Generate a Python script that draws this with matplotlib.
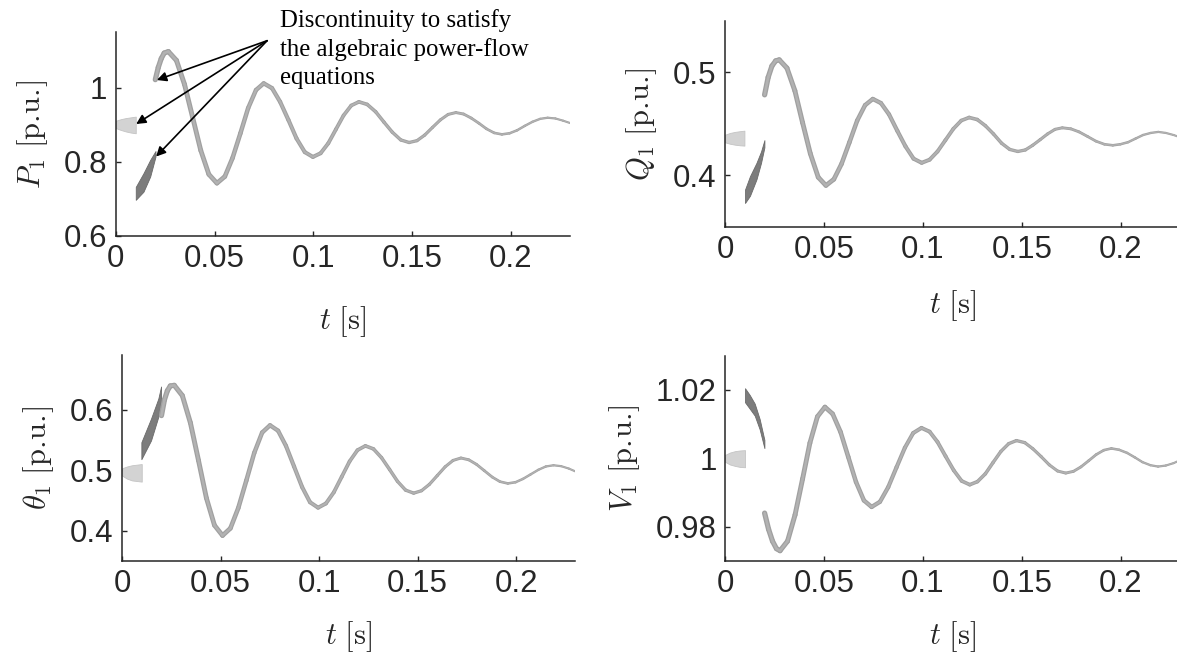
import numpy as np
import matplotlib
matplotlib.use("Agg")
import matplotlib.pyplot as plt
from matplotlib.collections import LineCollection

plt.rcParams['mathtext.fontset'] = 'cm'
plt.rcParams['font.family'] = ['Liberation Sans', 'DejaVu Sans']

# ---------------- data ----------------
# P1 [p.u.]
p_pre_t = [0.0, 0.0025, 0.005, 0.0075, 0.0101]
p_pre_hi = [0.911, 0.915, 0.918, 0.920, 0.922]
p_pre_lo = [0.891, 0.886, 0.882, 0.879, 0.877]
p_flt_t = [0.0101, 0.0140, 0.0174, 0.0201]
p_flt_hi = [0.732, 0.769, 0.805, 0.829]
p_flt_lo = [0.697, 0.719, 0.760, 0.814]
p_t = [0.0200, 0.0215, 0.0230, 0.0245, 0.0266, 0.0307, 0.0348, 0.0389, 0.0430, 0.0471,
       0.0512, 0.0552, 0.0591, 0.0631, 0.0670, 0.0710, 0.0749, 0.0791, 0.0832, 0.0874,
       0.0915, 0.0957, 0.0998, 0.1037, 0.1076, 0.1115, 0.1153, 0.1192, 0.1231, 0.1273,
       0.1316, 0.1358, 0.1400, 0.1443, 0.1485, 0.1525, 0.1564, 0.1604, 0.1643, 0.1683,
       0.1722, 0.1761, 0.1800, 0.1839, 0.1877, 0.1916, 0.1955, 0.1994, 0.2032, 0.2071,
       0.2110, 0.2149, 0.2187, 0.2226, 0.2265, 0.2304]
p_y = [1.022, 1.055, 1.079, 1.094, 1.098, 1.074, 1.009, 0.920, 0.831, 0.766,
       0.742, 0.760, 0.810, 0.877, 0.945, 0.994, 1.012, 0.999, 0.962, 0.913,
       0.863, 0.826, 0.813, 0.823, 0.850, 0.888, 0.925, 0.952, 0.962, 0.955,
       0.935, 0.907, 0.880, 0.859, 0.852, 0.857, 0.872, 0.893, 0.913, 0.928,
       0.933, 0.929, 0.918, 0.904, 0.889, 0.878, 0.874, 0.877, 0.885, 0.897,
       0.908, 0.916, 0.919, 0.917, 0.911, 0.904]

# Q1 [p.u.]
q_pre_t = [0.0, 0.0025, 0.005, 0.0075, 0.0098]
q_pre_hi = [0.4393, 0.4410, 0.4420, 0.4427, 0.4432]
q_pre_lo = [0.4319, 0.4305, 0.4296, 0.4290, 0.4287]
q_flt_t = [0.0101, 0.0126, 0.0159, 0.0182, 0.0199]
q_flt_hi = [0.386, 0.399, 0.412, 0.423, 0.434]
q_flt_lo = [0.373, 0.380, 0.396, 0.412, 0.427]
q_t = [0.0200, 0.0218, 0.0237, 0.0256, 0.0274, 0.0313, 0.0353, 0.0392, 0.0431, 0.0471,
       0.0510, 0.0550, 0.0589, 0.0629, 0.0668, 0.0708, 0.0747, 0.0788, 0.0829, 0.0871,
       0.0912, 0.0953, 0.0994, 0.1034, 0.1074, 0.1114, 0.1154, 0.1194, 0.1234, 0.1275,
       0.1316, 0.1357, 0.1398, 0.1439, 0.1480, 0.1518, 0.1555, 0.1593, 0.1630, 0.1668,
       0.1705, 0.1748, 0.1790, 0.1833, 0.1875, 0.1918, 0.1960, 0.1998, 0.2037, 0.2075,
       0.2113, 0.2152, 0.2190, 0.2228, 0.2267, 0.2305]
q_y = [0.478, 0.495, 0.506, 0.511, 0.512, 0.504, 0.482, 0.451, 0.421, 0.398,
       0.390, 0.396, 0.411, 0.432, 0.453, 0.468, 0.474, 0.470, 0.459, 0.443,
       0.428, 0.416, 0.412, 0.415, 0.423, 0.434, 0.445, 0.453, 0.456, 0.454,
       0.448, 0.440, 0.431, 0.425, 0.423, 0.4245, 0.429, 0.4345, 0.440, 0.4445,
       0.446, 0.445, 0.442, 0.4375, 0.433, 0.430, 0.429, 0.430, 0.432, 0.4355,
       0.439, 0.441, 0.442, 0.441, 0.439, 0.4365]

# theta1 [p.u.]
th_pre_t = [0.0, 0.0025, 0.005, 0.0075, 0.0100]
th_pre_hi = [0.503, 0.506, 0.508, 0.509, 0.510]
th_pre_lo = [0.491, 0.486, 0.483, 0.482, 0.481]
th_flt_t = [0.0098, 0.0147, 0.0184, 0.0198]
th_flt_hi = [0.546, 0.585, 0.618, 0.638]
th_flt_lo = [0.518, 0.549, 0.588, 0.613]
th_t = [0.0200, 0.0215, 0.0230, 0.0245, 0.0265, 0.0306, 0.0347, 0.0388, 0.0428, 0.0469,
        0.0510, 0.0550, 0.0590, 0.0631, 0.0671, 0.0711, 0.0751, 0.0792, 0.0832, 0.0873,
        0.0914, 0.0954, 0.0995, 0.1035, 0.1075, 0.1115, 0.1155, 0.1195, 0.1235, 0.1276,
        0.1317, 0.1358, 0.1398, 0.1439, 0.1480, 0.1520, 0.1560, 0.1600, 0.1640, 0.1680,
        0.1720, 0.1760, 0.1799, 0.1839, 0.1879, 0.1918, 0.1958, 0.1997, 0.2035, 0.2074,
        0.2113, 0.2151, 0.2190, 0.2229, 0.2268, 0.2307]
th_y = [0.590, 0.616, 0.631, 0.639, 0.640, 0.623, 0.578, 0.516, 0.454, 0.409,
        0.392, 0.404, 0.4375, 0.483, 0.5285, 0.562, 0.574, 0.565, 0.540, 0.506,
        0.472, 0.447, 0.438, 0.445, 0.4635, 0.489, 0.5145, 0.533, 0.540, 0.535,
        0.5205, 0.501, 0.4815, 0.467, 0.462, 0.466, 0.4765, 0.491, 0.5055, 0.516,
        0.520, 0.517, 0.5095, 0.499, 0.4885, 0.481, 0.478, 0.480, 0.4855, 0.493,
        0.5005, 0.506, 0.508, 0.5065, 0.5025, 0.497]

# V1 [p.u.]
v_pre_t = [0.0, 0.0025, 0.005, 0.0075, 0.0101]
v_pre_hi = [1.0010, 1.0017, 1.0021, 1.0023, 1.0024]
v_pre_lo = [0.9990, 0.9982, 0.9978, 0.9975, 0.9974]
v_flt_t = [0.0101, 0.0125, 0.0150, 0.0175, 0.0199]
v_flt_hi = [1.0205, 1.0185, 1.0160, 1.0115, 1.0054]
v_flt_lo = [1.0164, 1.0145, 1.0125, 1.0085, 1.0030]
v_t = [0.0200, 0.0220, 0.0240, 0.0260, 0.0278, 0.0316, 0.0354, 0.0392, 0.0429, 0.0467,
       0.0505, 0.0544, 0.0584, 0.0623, 0.0662, 0.0702, 0.0741, 0.0783, 0.0825, 0.0867,
       0.0909, 0.0951, 0.0993, 0.1034, 0.1074, 0.1115, 0.1156, 0.1196, 0.1237, 0.1276,
       0.1316, 0.1355, 0.1394, 0.1434, 0.1473, 0.1515, 0.1556, 0.1598, 0.1639, 0.1681,
       0.1722, 0.1761, 0.1799, 0.1838, 0.1876, 0.1915, 0.1953, 0.1992, 0.2032, 0.2071,
       0.2110, 0.2150, 0.2189, 0.2228, 0.2267, 0.2306]
v_y = [0.9840, 0.9793, 0.9758, 0.9736, 0.9730, 0.9758, 0.9835, 0.9940, 1.0045, 1.0122,
       1.0150, 1.0130, 1.0077, 1.0004, 0.9931, 0.9877, 0.9858, 0.9873, 0.9916, 0.9974,
       1.0031, 1.0074, 1.0089, 1.0078, 1.0048, 1.0006, 0.9965, 0.9934, 0.9923, 0.9932,
       0.9955, 0.9988, 1.0020, 1.0043, 1.0052, 1.0046, 1.0028, 1.0005, 0.9981, 0.9963,
       0.9957, 0.9962, 0.9975, 0.9993, 1.0011, 1.0024, 1.0029, 1.0025, 1.0016, 1.0003,
       0.9989, 0.9980, 0.9976, 0.9979, 0.9986, 0.9996]

x_ticks = [0, 0.05, 0.1, 0.15, 0.2]
x_ticklabels = ['0', '0.05', '0.1', '0.15', '0.2']

# annotation (data coords of the P1 panel)
arrow_tail = (0.0766, 1.1273)
arrow_heads = [(0.0208, 1.021), (0.0103, 0.902), (0.0204, 0.814)]
note = 'Discontinuity to satisfy\nthe algebraic power-flow\nequations'

# ---------------- figure ----------------
fig = plt.figure(figsize=(11.77, 6.54), dpi=100)
axc = '#262626'
pu = r'\ [\mathrm{p}.\!\mathrm{u}.\!]$'


def panel(rect, pre, flt, post, ylim, yticks, yticklabels, ylabel, xpad):
    ax = fig.add_axes(rect)
    # pre-fault (light wedge)
    ax.fill_between(pre[0], pre[1], pre[2], color='#d3d3d3', ec='#c4c4c4', lw=0.6, zorder=2)
    # during fault (dark band)
    ax.fill_between(flt[0], flt[1], flt[2], color='#7c7c7c', ec='#6a6a6a', lw=0.6, zorder=2)
    # post-fault ensemble band, narrowing with time
    t = np.array(post[0])
    y = np.array(post[1])
    pts = np.column_stack([t, y]).reshape(-1, 1, 2)
    segs = np.concatenate([pts[:-1], pts[1:]], axis=1)
    w = np.linspace(3.8, 1.5, len(segs))
    ax.add_collection(LineCollection(segs, linewidths=w, colors='#a0a0a0',
                                     capstyle='round', joinstyle='round', zorder=3))
    ax.add_collection(LineCollection(segs, linewidths=w * 0.5, colors='#b2b2b2',
                                     capstyle='round', joinstyle='round', zorder=4))
    ax.set_xlim(0, 0.23)
    ax.set_ylim(*ylim)
    ax.set_xticks(x_ticks)
    ax.set_xticklabels(x_ticklabels)
    ax.set_yticks(yticks)
    ax.set_yticklabels(yticklabels)
    for s in ['top', 'right']:
        ax.spines[s].set_visible(False)
    for s in ['left', 'bottom']:
        ax.spines[s].set_linewidth(1.1)
        ax.spines[s].set_color(axc)
    ax.tick_params(direction='in', length=3.5, width=1.0, color=axc,
                   labelsize=22.5, labelcolor=axc, pad=6)
    ax.set_xlabel(r'$t\ [\mathrm{s}]$', fontsize=22, color=axc, labelpad=xpad)
    ax.set_ylabel(ylabel, fontsize=22, color=axc, labelpad=10)
    return ax


ax1 = panel([0.0984, 0.6396, 0.3859, 0.311],
            (p_pre_t, p_pre_lo, p_pre_hi), (p_flt_t, p_flt_lo, p_flt_hi), (p_t, p_y),
            (0.6, 1.15), [0.6, 0.8, 1.0], ['0.6', '0.8', '1'], r'$P_1' + pu, 22)
ax2 = panel([0.616, 0.6534, 0.3866, 0.315],
            (q_pre_t, q_pre_lo, q_pre_hi), (q_flt_t, q_flt_lo, q_flt_hi), (q_t, q_y),
            (0.35, 0.55), [0.4, 0.5], ['0.4', '0.5'], r'$Q_1' + pu, 17)
ax3 = panel([0.1037, 0.1422, 0.385, 0.315],
            (th_pre_t, th_pre_lo, th_pre_hi), (th_flt_t, th_flt_lo, th_flt_hi), (th_t, th_y),
            (0.35, 0.69), [0.4, 0.5, 0.6], ['0.4', '0.5', '0.6'], r'$\theta_1' + pu, 14)
ax4 = panel([0.616, 0.1422, 0.3866, 0.3139],
            (v_pre_t, v_pre_lo, v_pre_hi), (v_flt_t, v_flt_lo, v_flt_hi), (v_t, v_y),
            (0.97, 1.03), [0.98, 1.0, 1.02], ['0.98', '1', '1.02'], r'$V_1' + pu, 14)

for head in arrow_heads:
    ax1.annotate('', xy=head, xytext=arrow_tail,
                 arrowprops=dict(arrowstyle='-|>', color='black', lw=1.2,
                                 shrinkA=0, shrinkB=0, mutation_scale=14), zorder=5)
fig.text(280 / 1177, 1 - 9 / 654, note, family='Liberation Serif', fontsize=17.8,
         ha='left', va='top', linespacing=1.35)

fig.savefig('out.png', dpi=100)
